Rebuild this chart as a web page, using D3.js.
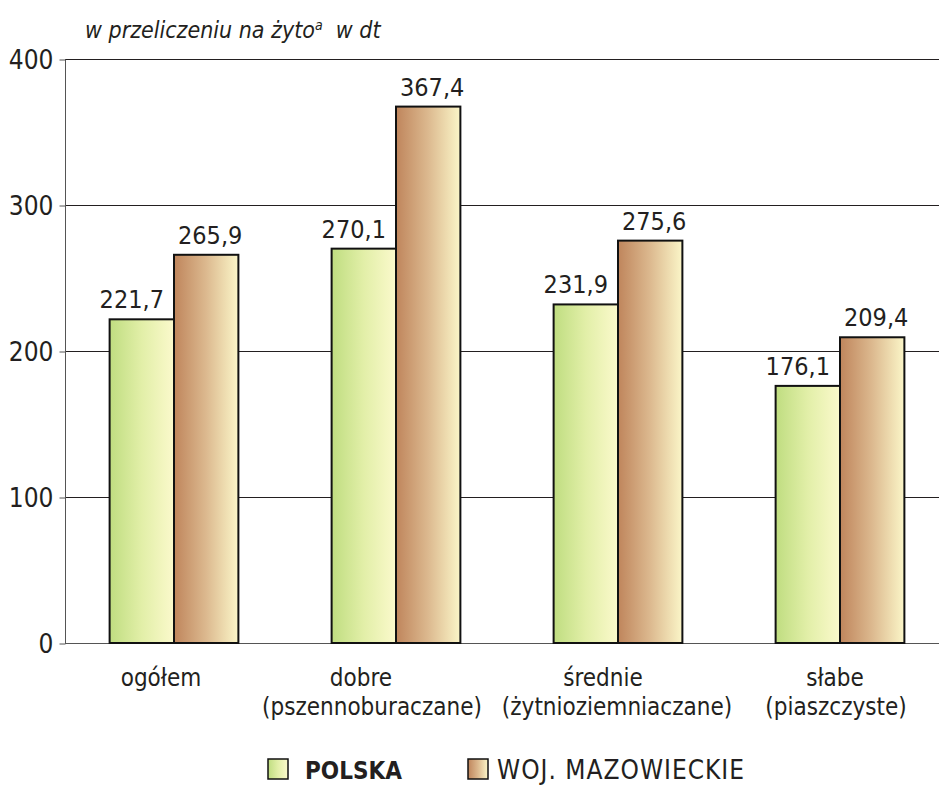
<!DOCTYPE html>
<html>
<head>
<meta charset="utf-8">
<script src="https://cdn.jsdelivr.net/npm/d3@7"></script>
<style>
  body { margin: 0; background: #fff; }
  text { font-family: "DejaVu Sans Condensed", "Liberation Sans Narrow", sans-serif; fill: #231f20; }
</style>
</head>
<body>
<svg id="chart"></svg>
<script>
const width = 939, height = 785;
const margin = { top: 59, bottom: 142, left: 65, right: 0 };

// Data
const categories = ["ogółem", "dobre\n(pszennoburaczane)", "średnie\n(żytnioziemniaczane)", "słabe\n(piaszczyste)"];
const series = ["POLSKA", "WOJ. MAZOWIECKIE"];
const polska = [221.7, 270.1, 231.9, 176.1];
const mazowieckie = [265.9, 367.4, 275.6, 209.4];
const yTicks = [0, 100, 200, 300, 400];

// label shifts (px) per category line, as in the original layout
const labelShift = [[-13], [-35, -24], [-15, -1], [-5, -4]];
// value label shift per series
const valueShift = [-10, 4];

const svg = d3.select("#chart")
    .attr("width", width)
    .attr("height", height);

// Gradients for bars
const defs = svg.append("defs");
const gradStops = {
    green: ["#bfdd80", "#e2efa8", "#fbf9cc"],
    brown: ["#bf855c", "#dcb98f", "#fbf6c8"]
};
Object.entries(gradStops).forEach(([name, stops]) => {
    const g = defs.append("linearGradient").attr("id", "grad-" + name)
        .attr("x1", "0%").attr("x2", "100%").attr("y1", "0%").attr("y2", "0%");
    g.append("stop").attr("offset", "0%").attr("stop-color", stops[0]);
    g.append("stop").attr("offset", "50%").attr("stop-color", stops[1]);
    g.append("stop").attr("offset", "100%").attr("stop-color", stops[2]);
});

const yScale = d3.scaleLinear()
    .domain([0, 400])
    .range([height - margin.bottom, margin.top]);

const xScale = d3.scaleBand()
    .domain(categories)
    .range([63, 951])
    .paddingInner(0.42)
    .paddingOuter(0.21);

const subScale = d3.scaleBand()
    .domain(series)
    .range([0, xScale.bandwidth()])
    .padding(0);

const colorScale = d3.scaleOrdinal()
    .domain(series)
    .range(["url(#grad-green)", "url(#grad-brown)"]);

// Gridlines
svg.append("g")
    .selectAll("line")
    .data(yTicks.filter(d => d > 0))
    .enter().append("line")
    .attr("x1", margin.left)
    .attr("x2", width)
    .attr("y1", d => yScale(d) + 0.5)
    .attr("y2", d => yScale(d) + 0.5)
    .attr("stroke", "#231f20")
    .attr("stroke-width", 1);

// Y axis
const yAxis = svg.append("g")
    .attr("transform", `translate(${margin.left + 0.5}, 0.5)`)
    .call(d3.axisLeft(yScale).tickValues(yTicks).tickSize(6).tickPadding(6).tickFormat(d3.format("d")));
yAxis.select(".domain").attr("d", `M0,${yScale(0)}V${yScale(400)}`).attr("stroke", "#555");
yAxis.selectAll("line").attr("stroke", "#555");
yAxis.selectAll("text")
    .style("font-size", "26px")
    .attr("fill", "#231f20")
    .attr("dy", "0.36em");

// Baseline
svg.append("line")
    .attr("x1", margin.left)
    .attr("x2", width)
    .attr("y1", yScale(0) + 0.5)
    .attr("y2", yScale(0) + 0.5)
    .attr("stroke", "#555");

// Bars
const rows = [];
categories.forEach((c, i) => {
    rows.push({ cat: c, s: series[0], si: 0, value: polska[i] });
    rows.push({ cat: c, s: series[1], si: 1, value: mazowieckie[i] });
});

svg.append("g")
    .selectAll("rect")
    .data(rows)
    .enter().append("rect")
    .attr("x", d => xScale(d.cat) + subScale(d.s))
    .attr("y", d => yScale(d.value))
    .attr("width", subScale.bandwidth())
    .attr("height", d => yScale(0) - yScale(d.value))
    .attr("fill", d => colorScale(d.s))
    .attr("stroke", "#111")
    .attr("stroke-width", 2);

// Value labels
svg.append("g")
    .selectAll("text")
    .data(rows)
    .enter().append("text")
    .attr("x", d => xScale(d.cat) + subScale(d.s) + subScale.bandwidth() / 2 + valueShift[d.si])
    .attr("y", d => yScale(d.value) - 11)
    .attr("text-anchor", "middle")
    .style("font-size", "25px")
    .text(d => d3.format(".1f")(d.value).replace(".", ","));

// Category labels
const catLabels = svg.append("g")
    .selectAll("text")
    .data(categories)
    .enter().append("text")
    .attr("y", yScale(0) + 43)
    .attr("text-anchor", "middle")
    .style("font-size", "24px");
catLabels.each(function(d, ci) {
    const lines = d.split("\n");
    const t = d3.select(this);
    lines.forEach((l, i) => {
        t.append("tspan")
            .attr("x", xScale(d) + xScale.bandwidth() / 2 + labelShift[ci][i])
            .attr("dy", i === 0 ? 0 : 29)
            .text(l);
    });
});

// Title
const title = svg.append("text")
    .attr("x", 85)
    .attr("y", 38)
    .style("font-size", "23px")
    .style("font-style", "italic");
title.append("tspan").text("w przeliczeniu na żyto");
title.append("tspan").attr("dy", -8).style("font-size", "14px").text("a");
title.append("tspan").attr("dy", 8).text("\u00a0 w dt");

// Legend
const legendX = [268, 468];
const legend = svg.selectAll(".legend")
    .data(series)
    .enter().append("g")
    .attr("class", "legend")
    .attr("transform", (d, i) => `translate(${legendX[i]}, 759)`);

legend.append("rect")
    .attr("width", 20)
    .attr("height", 20)
    .attr("fill", d => colorScale(d))
    .attr("stroke", "#111")
    .attr("stroke-width", 1.5);

legend.append("text")
    .attr("x", (d, i) => i === 0 ? 37 : 29)
    .attr("y", 20)
    .style("font-size", (d, i) => i === 0 ? "24px" : "26px")
    .style("letter-spacing", (d, i) => i === 0 ? "0px" : "1px")
    .style("font-weight", (d, i) => i === 0 ? "bold" : "normal")
    .text(d => d);
</script>
</body>
</html>
